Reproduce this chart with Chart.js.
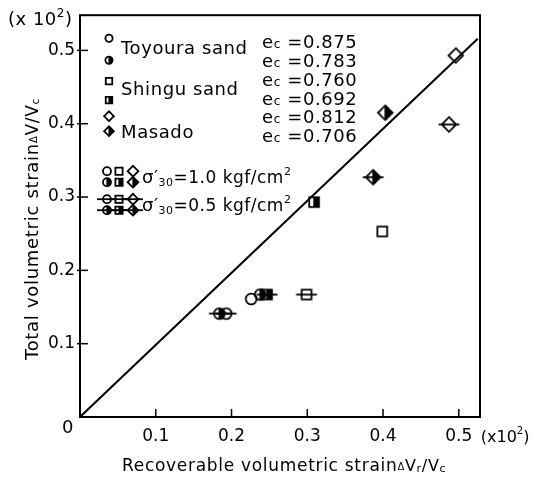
<!DOCTYPE html>
<html>
<head>
<meta charset="utf-8">
<script src="https://cdn.jsdelivr.net/npm/chart.js@4.4.1/dist/chart.umd.min.js"></script>
<style>
  body { margin: 0; background: #fff; }
</style>
</head>
<body>
<canvas id="chart" width="537" height="480"></canvas>
<script>
// values, units x10^-2
// first point of each pair: sigma'30 = 1.0, second: sigma'30 = 0.5
const tickValues = [0.1, 0.2, 0.3, 0.4, 0.5]

const toyouraLooseX = [0.226, 0.193]
const toyouraLooseY = [0.161, 0.141]
const toyouraDenseX = [0.238, 0.184]
const toyouraDenseY = [0.167, 0.141]

const shinguLooseX = [0.399, 0.299]
const shinguLooseY = [0.253, 0.167]
const shinguDenseX = [0.309, 0.247]
const shinguDenseY = [0.293, 0.167]

const masadoLooseX = [0.496, 0.487]
const masadoLooseY = [0.493, 0.399]
const masadoDenseX = [0.403, 0.387]
const masadoDenseY = [0.415, 0.327]

// reference line drawn on the figure
const lineX = [0, 0.525]
const lineY = [0, 0.516]

const materials = [`Toyoura sand`, `Shingu sand`, `Masado`]
const voidRatios = [`0.875`, `0.783`, `0.760`, `0.692`, `0.812`, `0.706`]

const FONT = `"DejaVu Sans", "Liberation Sans", sans-serif`

// draw one symbol centred on x,y
function drawMarker(ctx, x, y, shape, half, r, bar) {
  ctx.save()
  ctx.strokeStyle = `#000`
  ctx.lineWidth = 1.8
  ctx.beginPath()
  if (shape == `circle`) {
    ctx.arc(x, y, r, 0, Math.PI * 2)
  } else if (shape == `square`) {
    let s = r * 0.9
    ctx.rect(x - s, y - s, s * 2, s * 2)
  } else {
    let d = r * 1.35
    ctx.moveTo(x, y - d)
    ctx.lineTo(x + d, y)
    ctx.lineTo(x, y + d)
    ctx.lineTo(x - d, y)
    ctx.closePath()
  }
  if (half) {
    ctx.save()
    ctx.clip()
    ctx.fillStyle = `#000`
    ctx.fillRect(x - r * 0.15, y - r * 2, r * 3, r * 4)
    ctx.restore()
  }
  ctx.stroke()
  if (bar) {
    ctx.beginPath()
    ctx.moveTo(x - r - bar, y)
    ctx.lineTo(x + r + bar, y)
    ctx.stroke()
  }
  ctx.restore()
}

// marker images for pointStyle
function markerImage(shape, half, bar) {
  let r = 5.4
  let c = document.createElement(`canvas`)
  c.width = Math.ceil((r * 1.4 + (bar ? bar : 0)) * 2) + 4
  c.height = Math.ceil(r * 1.4 * 2) + 4
  drawMarker(c.getContext(`2d`), c.width / 2, c.height / 2, shape, half, r, bar)
  return c
}

function styles(shape, half) {
  return [markerImage(shape, half, 0), markerImage(shape, half, 5)]
}

function pts(xs, ys) {
  return xs.map((x, i) => ({ x: x, y: ys[i] }))
}

// text made of runs: [text, size, dy]
function drawRuns(ctx, x, y, runs) {
  let cx = x
  runs.forEach(r => {
    ctx.font = r[1] + `px ` + FONT
    ctx.fillText(r[0], cx, y + (r[2] || 0))
    cx += ctx.measureText(r[0]).width
  })
  return cx - x
}

const decorations = {
  id: `decorations`,
  afterDraw(chart) {
    let ctx = chart.ctx
    let ca = chart.chartArea
    let xs = chart.scales.x
    let ys = chart.scales.y
    ctx.save()
    ctx.fillStyle = `#000`
    ctx.strokeStyle = `#000`
    ctx.textBaseline = `alphabetic`

    // frame
    ctx.lineWidth = 2
    ctx.strokeRect(ca.left, ca.top, ca.right - ca.left, ca.bottom - ca.top)

    // inward ticks
    ctx.lineWidth = 1.5
    tickValues.forEach(v => {
      let px = xs.getPixelForValue(v)
      ctx.beginPath()
      ctx.moveTo(px, ca.bottom)
      ctx.lineTo(px, ca.bottom - 8)
      ctx.stroke()
      let py = ys.getPixelForValue(v)
      ctx.beginPath()
      ctx.moveTo(ca.left - 3, py)
      ctx.lineTo(ca.left + 8, py)
      ctx.stroke()
    })

    // origin and multipliers
    ctx.font = `18px ` + FONT
    ctx.fillText(`0`, ca.left - 18, ca.bottom + 16)
    ctx.letterSpacing = `0.5px`
    drawRuns(ctx, 8, 25, [[`(x 10`, 18], [`2`, 12, -8], [`)`, 18]])
    ctx.letterSpacing = `0px`
    drawRuns(ctx, xs.getPixelForValue(0.5) + 22, ca.bottom + 25, [[`(x10`, 16], [`2`, 10, -8], [`)`, 16]])

    // axis titles
    ctx.letterSpacing = `0.7px`
    drawRuns(ctx, 122, 471, [[`Recoverable volumetric strain`, 17], [`Δ`, 10, -1], [`V`, 16], [`r`, 11, 1], [`/V`, 16], [`c`, 11, 1]])
    ctx.save()
    ctx.translate(38, 360)
    ctx.rotate(-Math.PI / 2)
    drawRuns(ctx, 0, 0, [[`Total volumetric strain`, 18], [`Δ`, 10, -1], [`V/V`, 17], [`c`, 11, 1]])
    ctx.restore()

    // legend, materials
    ctx.letterSpacing = `0.6px`
    let L = ca.left, T = ca.top
    let shapes = [`circle`, `square`, `diamond`]
    let rowsY = [[T + 23, T + 45], [T + 66, T + 85], [T + 101, T + 116]]
    let textY = [T + 39, T + 80, T + 123]
    shapes.forEach((s, i) => {
      drawMarker(ctx, L + 29, rowsY[i][0], s, false, 3.6, 0)
      drawMarker(ctx, L + 29, rowsY[i][1], s, true, 3.6, 0)
      ctx.font = `18px ` + FONT
      ctx.fillText(materials[i], L + 41, textY[i])
    })
    voidRatios.forEach((v, i) => {
      drawRuns(ctx, L + 182, T + 33 + i * 18.8, [[`e`, 18], [`c`, 12, 0], [` =` + v, 18]])
    })

    // legend, confining pressure
    ctx.letterSpacing = `0.5px`
    let sig = [[T + 156, T + 167, `1.0`, 0], [T + 184, T + 195, `0.5`, 6]]
    sig.forEach(row => {
      shapes.forEach((s, j) => {
        let mx = L + 27 + j * 12 + (s == `diamond` ? 2 : 0)
        drawMarker(ctx, mx, row[0], s, false, 4, row[3])
        drawMarker(ctx, mx, row[1], s, true, 4, row[3])
      })
      let ty = (row[0] + row[1]) / 2 + 6
      drawRuns(ctx, L + 62, ty, [[`σ′`, 18], [`30`, 11, 3], [`=` + row[2] + ` kgf/cm`, 17], [`2`, 11, -8]])
    })

    ctx.restore()
  }
}

const axisTicks = {
  font: { family: FONT, size: 17 },
  color: `#000`,
  callback: v => v.toFixed(1)
}

new Chart(document.querySelector(`#chart`).getContext(`2d`), {
  type: `scatter`,
  data: {
    datasets: [
      { data: pts(lineX, lineY), type: `line`, showLine: true, borderColor: `#000`, borderWidth: 2, pointRadius: 0, fill: false },
      { data: pts(toyouraLooseX, toyouraLooseY), pointStyle: styles(`circle`, false) },
      { data: pts(toyouraDenseX, toyouraDenseY), pointStyle: styles(`circle`, true) },
      { data: pts(shinguLooseX, shinguLooseY), pointStyle: styles(`square`, false) },
      { data: pts(shinguDenseX, shinguDenseY), pointStyle: styles(`square`, true) },
      { data: pts(masadoLooseX, masadoLooseY), pointStyle: styles(`diamond`, false) },
      { data: pts(masadoDenseX, masadoDenseY), pointStyle: styles(`diamond`, true) }
    ]
  },
  options: {
    responsive: false,
    animation: false,
    layout: { padding: { top: 9, right: 57, left: 0, bottom: 0 } },
    plugins: { legend: { display: false }, tooltip: { enabled: false } },
    scales: {
      x: {
        type: `linear`, min: 0, max: 0.528,
        grid: { display: false, drawTicks: false },
        border: { display: false },
        ticks: Object.assign({ padding: 9 }, axisTicks),
        afterBuildTicks: s => { s.ticks = tickValues.map(v => ({ value: v })) },
        afterFit: s => { s.height = 63 }
      },
      y: {
        type: `linear`, min: 0, max: 0.548,
        grid: { display: false, drawTicks: false },
        border: { display: false },
        ticks: Object.assign({ padding: 5 }, axisTicks),
        afterBuildTicks: s => { s.ticks = tickValues.map(v => ({ value: v })) },
        afterFit: s => { s.width = 80 }
      }
    }
  },
  plugins: [decorations]
})
</script>
</body>
</html>
